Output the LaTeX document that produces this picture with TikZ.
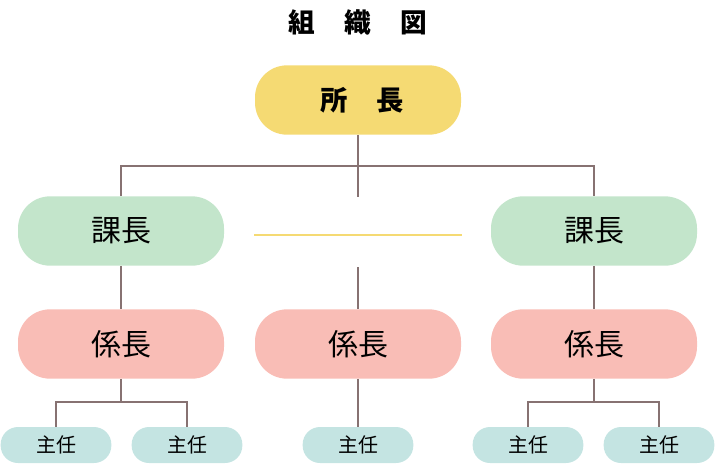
\documentclass[tikz,border=0pt]{standalone}
\usepackage{fontspec}
\newfontfamily\jpfont{Noto Sans CJK JP}
\definecolor{boxyellow}{HTML}{F5DA73}
\definecolor{boxgreen}{HTML}{C3E5CB}
\definecolor{boxpink}{HTML}{F9BDB6}
\definecolor{boxteal}{HTML}{C4E4E2}
\definecolor{linegray}{HTML}{877272}
\begin{document}
\begin{tikzpicture}[x=0.75pt,y=-0.75pt,
  every node/.style={font=\jpfont},
  pill/.style={rounded corners=24pt,minimum width=154.5pt,minimum height=52pt,inner sep=0pt},
  conn/.style={draw=linegray,line width=1.5pt}]
\tikzstyle{shocho}=[pill,fill=boxyellow,font=\jpfont\bfseries\fontsize{20.5pt}{24pt}\selectfont]
\tikzstyle{kacho}=[pill,fill=boxgreen,font=\jpfont\fontsize{22.5pt}{26pt}\selectfont]
\tikzstyle{kakari}=[pill,fill=boxpink,font=\jpfont\fontsize{22.5pt}{26pt}\selectfont]
\tikzstyle{shunin}=[rounded corners=13pt,minimum width=83pt,minimum height=27pt,inner sep=0pt,
  fill=boxteal,font=\jpfont\fontsize{15pt}{18pt}\selectfont]
\useasboundingbox (0,0) rectangle (716,465);
\node[font=\jpfont\bfseries\fontsize{20pt}{24pt}\selectfont] (title) at (358,22) {組\hspace{1.1em}織\hspace{1.1em}図};
\node[shocho] (shocho) at (358,100) {\hspace{6pt}所\hspace{1.05em}長};
\node[kacho] (kachoL) at (121,231) {課長};
\node[kacho] (kachoR) at (594,231) {課長};
\node[kakari] (kakariL) at (121,344) {係長};
\node[kakari] (kakariC) at (358,344) {係長};
\node[kakari] (kakariR) at (594,344) {係長};
\node[shunin] (shuninA) at (56,445) {主任};
\node[shunin] (shuninB) at (187,445) {主任};
\node[shunin] (shuninC) at (358,445) {主任};
\node[shunin] (shuninD) at (528,445) {主任};
\node[shunin] (shuninE) at (659,445) {主任};
\coordinate (branch) at (358,166);
\coordinate (stubTop) at (358,197);
\coordinate (stubBottom) at (358,267);
\coordinate (dashL) at (254,235);
\coordinate (dashR) at (462,235);
\coordinate (forkL) at (121,402);
\coordinate (forkR) at (594,402);
\draw[conn] (shocho.south) -- (stubTop);
\draw[conn] (kachoL.north) |- (branch) -| (kachoR.north);
\draw[draw=boxyellow,line width=1.5pt] (dashL) -- (dashR);
\draw[conn] (kachoL.south) -- (kakariL.north);
\draw[conn] (stubBottom) -- (kakariC.north);
\draw[conn] (kachoR.south) -- (kakariR.north);
\draw[conn] (kakariL.south) -- (forkL);
\draw[conn] (shuninA.north) |- (forkL) -| (shuninB.north);
\draw[conn] (kakariC.south) -- (shuninC.north);
\draw[conn] (kakariR.south) -- (forkR);
\draw[conn] (shuninD.north) |- (forkR) -| (shuninE.north);
\end{tikzpicture}
\end{document}
